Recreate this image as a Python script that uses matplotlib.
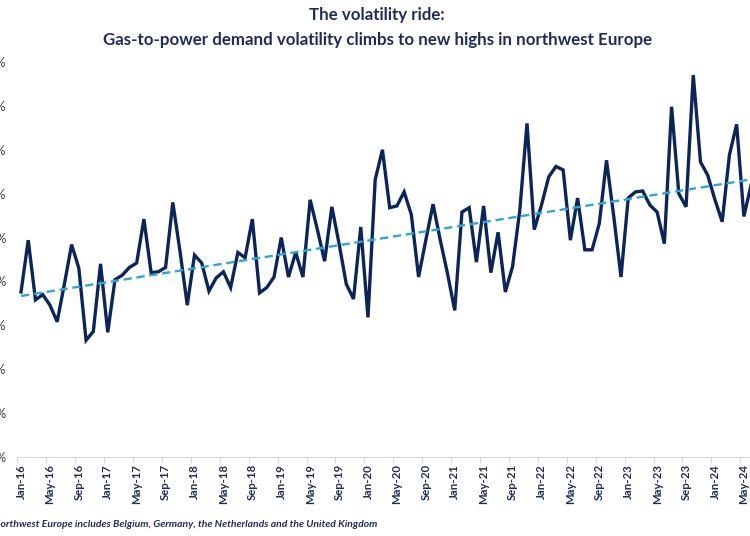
import matplotlib
matplotlib.use("Agg")
import matplotlib.pyplot as plt
import numpy as np

# monthly volatility (%), Jan-16 onwards (chart is cropped on the right)
volatility = [
    18.8, 24.7, 17.9, 18.5, 17.3, 15.4, 19.7, 24.2, 21.5, 13.3, 14.3, 22.0,
    14.2, 20.2, 20.7, 21.6, 22.1, 27.1, 21.0, 21.1, 21.6, 29.0, 23.4, 17.3,
    23.0, 22.1, 18.9, 20.4, 21.1, 19.3, 23.3, 22.7, 27.1, 18.7, 19.3, 20.5,
    25.0, 20.5, 23.3, 20.5, 29.3, 25.9, 22.3, 28.5, 24.3, 19.7, 18.0, 26.2,
    15.9, 31.6, 35.0, 28.4, 28.6, 30.2, 27.6, 20.5, 24.7, 28.8, 24.7, 20.9,
    16.7, 27.9, 28.4, 22.2, 28.6, 21.0, 25.6, 18.8, 21.7, 28.1, 38.0, 25.9,
    28.7, 31.9, 33.1, 32.7, 24.7, 29.5, 23.6, 23.6, 26.6, 33.8, 27.4, 20.5,
    29.5, 30.2, 30.3, 28.7, 27.9, 24.3, 39.9, 30.0, 28.5, 43.5, 33.6, 32.1,
    29.3, 26.8, 34.4, 37.9, 27.4, 31.0,
]
y_ticks = [0, 5, 10, 15, 20, 25, 30, 35, 40, 45]
months = ["Jan", "May", "Sep"]
tick_labels = [f"{months[k % 3]}-{16 + k // 3}" for k in range(26)]

navy = "#0b2559"
txt = "#1f2d5a"
plt.rcParams["font.family"] = ["Lato", "DejaVu Sans"]

fig = plt.figure(figsize=(7.5, 5.36), dpi=100)
ax = fig.add_axes([0.0232, 0.1474, 1.012, 0.737])

x = np.arange(len(volatility))
ax.plot(x, volatility, color=navy, lw=2.4, solid_joinstyle="miter", zorder=3)

# linear trend through the series
slope, icpt = np.polyfit(x, volatility, 1)
ax.plot(x, slope * x + icpt, color="#2ea6d6", lw=1.7, ls=(0, (3.5, 2)), zorder=4)

ax.set_xlim(-0.5, 104.5)
ax.set_ylim(0, 45)
ax.set_yticks(y_ticks)
ax.set_yticklabels([f"{v}%" for v in y_ticks], fontsize=9, color="#404040")
ax.tick_params(axis="y", length=0, pad=8)

ax.set_xticks(np.arange(0, 104, 4))
ax.set_xticklabels(tick_labels, rotation=90, fontsize=8.2, fontweight="bold", color=txt)
ax.set_xticks(np.arange(0, 104, 4) - 0.5, minor=True)
ax.tick_params(axis="x", which="major", length=0, pad=5)
ax.tick_params(axis="x", which="minor", length=4, color="#d0d0d0")

for s in ["top", "right", "left"]:
    ax.spines[s].set_visible(False)
ax.spines["bottom"].set_color("#d9d9d9")

fig.text(0.503, 0.972, "The volatility ride:", ha="center", va="center",
         fontsize=12.2, fontweight="bold", color=txt)
fig.text(0.503, 0.926, "Gas-to-power demand volatility climbs to new highs in northwest Europe",
         ha="center", va="center", fontsize=12.2, fontweight="bold", color=txt)
fig.text(-0.009, 0.021, "Northwest Europe includes Belgium, Germany, the Netherlands and the United Kingdom",
         ha="left", va="center", fontsize=7.5, fontweight="bold", style="italic", color=txt)

fig.savefig("out.png", dpi=100)
